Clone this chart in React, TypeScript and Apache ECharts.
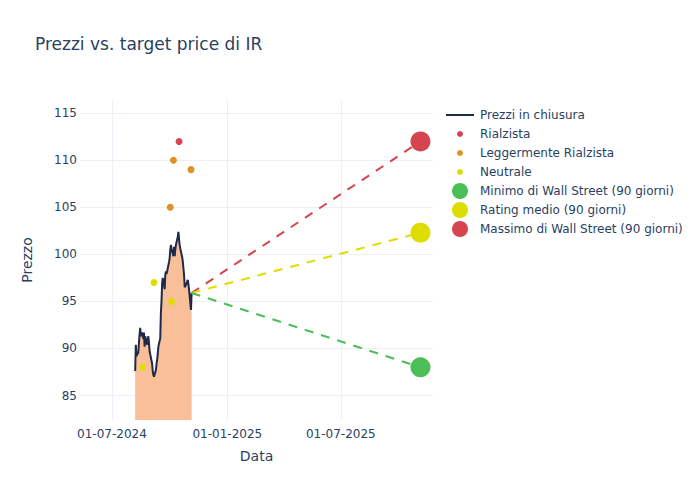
import React, { useEffect, useRef } from "react";
import * as echarts from "echarts";

const priceDates = [
  "2024-08-07","2024-08-08","2024-08-09","2024-08-12","2024-08-13","2024-08-14","2024-08-15","2024-08-16",
  "2024-08-19","2024-08-20","2024-08-21","2024-08-22","2024-08-23","2024-08-26","2024-08-27","2024-08-28",
  "2024-08-29","2024-08-30","2024-09-03","2024-09-04","2024-09-05","2024-09-06","2024-09-09","2024-09-10",
  "2024-09-11","2024-09-12","2024-09-13","2024-09-16","2024-09-17","2024-09-18","2024-09-19","2024-09-20",
  "2024-09-23","2024-09-24","2024-09-25","2024-09-26","2024-09-27","2024-09-30","2024-10-01","2024-10-02",
  "2024-10-03","2024-10-04","2024-10-07","2024-10-08","2024-10-09","2024-10-10","2024-10-11","2024-10-14",
  "2024-10-15","2024-10-16","2024-10-17","2024-10-18","2024-10-21","2024-10-22","2024-10-23","2024-10-24",
  "2024-10-25","2024-10-28","2024-10-29","2024-10-30","2024-10-31","2024-11-01","2024-11-04","2024-11-05",
];
const closes = [
  87.6, 90.4, 89.2, 89.6, 90.6, 91.5, 92.2, 91.3,
  91.7, 91.0, 91.7, 90.2, 91.3, 90.4, 90.9, 91.3,
  90.6, 89.7, 88.4, 87.6, 87.2, 87.0, 87.7, 88.3,
  88.8, 89.4, 90.2, 91.1, 93.8, 95.0, 96.9, 97.5,
  96.3, 97.8, 98.2, 97.9, 98.2, 99.2, 99.6, 100.5,
  101.0, 100.6, 99.8, 100.8, 99.8, 100.5, 101.0, 101.9,
  102.4, 101.6, 101.0, 100.6, 99.7, 99.2, 98.5, 97.8,
  96.5, 96.9, 97.1, 97.3, 96.8, 96.2, 94.1, 95.9,
];

const bullishDates = ["2024-10-16"];
const bullishValues = [112];
const slightlyBullishDates = ["2024-10-02", "2024-10-07", "2024-11-04"];
const slightlyBullishValues = [105, 110, 109];
const neutralDates = ["2024-08-19", "2024-09-06", "2024-10-04"];
const neutralValues = [88, 97, 95];

const targetDate = "2025-11-05";
const targetMin = 88;
const targetAvg = 102.3;
const targetMax = 112;

const xTickDates = ["2024-07-01", "2025-01-01", "2025-07-01"];
const yTicks = [85, 90, 95, 100, 105, 110, 115];

const legendNames = [
  "Prezzi in chiusura",
  "Rialzista",
  "Leggermente Rialzista",
  "Neutrale",
  "Minimo di Wall Street (90 giorni)",
  "Rating medio (90 giorni)",
  "Massimo di Wall Street (90 giorni)",
];

const ts = (s: string) => {
  const [y, m, d] = s.split("-").map(Number);
  return Date.UTC(y, m - 1, d);
};

const TXT = "#2a3f5f";
const FONT = "DejaVu Sans";
const DARK = "#1f2a48";
const RED = "#d6444f";
const ORANGE = "#de9126";
const YELLOW = "#dddd00";
const GREEN = "#4cbe57";

export default function App() {
  const ref = useRef<HTMLDivElement>(null);
  useEffect(() => {
    if (!ref.current) return;
    const chart = echarts.init(ref.current, null, { renderer: "svg" });
    const lastDate = priceDates[priceDates.length - 1];
    const lastClose = closes[closes.length - 1];

    const legendColors = [DARK, RED, ORANGE, YELLOW, GREEN, YELLOW, RED];
    const legendRadius = [0, 3, 3, 3, 8, 8, 8];
    const legendGraphics: any[] = [];
    legendNames.forEach((name, i) => {
      const cy = 115 + i * 19;
      if (i === 0) {
        legendGraphics.push({
          type: "line",
          shape: { x1: 446, y1: cy, x2: 474, y2: cy },
          style: { stroke: DARK, lineWidth: 2 },
        });
      } else {
        legendGraphics.push({
          type: "circle",
          shape: { cx: 460, cy, r: legendRadius[i] },
          style: { fill: legendColors[i] },
        });
      }
      legendGraphics.push({
        type: "text",
        x: 480,
        y: cy,
        style: {
          text: name,
          fill: TXT,
          fontSize: 12,
          fontFamily: FONT,
          verticalAlign: "middle",
          align: "left",
        },
      });
    });

    const dash = { width: 2, type: [9, 8] as number[] };

    chart.setOption({
      animation: false,
      backgroundColor: "#ffffff",
      textStyle: { fontFamily: FONT },
      title: {
        text: "Prezzi vs. target price di IR",
        left: 35,
        top: 35,
        padding: 0,
        textStyle: { color: TXT, fontSize: 17, fontWeight: "normal", fontFamily: FONT },
      },
      graphic: legendGraphics,
      grid: { left: 80, right: 267, top: 100, bottom: 80, containLabel: false },
      xAxis: {
        type: "value",
        min: ts("2024-05-11"),
        max: ts("2025-11-25"),
        name: "Data",
        nameLocation: "middle",
        nameGap: 29,
        nameTextStyle: { color: TXT, fontSize: 14, fontFamily: FONT },
        axisLine: { show: false },
        axisTick: { show: false, customValues: xTickDates.map(ts) },
        axisLabel: {
          customValues: xTickDates.map(ts),
          color: TXT,
          fontSize: 12,
          fontFamily: FONT,
          margin: 8,
          formatter: (v: number) => {
            const d = new Date(v);
            const dd = String(d.getUTCDate()).padStart(2, "0");
            const mm = String(d.getUTCMonth() + 1).padStart(2, "0");
            return `${dd}-${mm}-${d.getUTCFullYear()}`;
          },
        },
        splitLine: { show: true, lineStyle: { color: "#ebf0f8", width: 1 } },
      },
      yAxis: {
        type: "value",
        min: 82.4,
        max: 116.4,
        name: "Prezzo",
        nameLocation: "middle",
        nameGap: 46,
        nameTextStyle: { color: TXT, fontSize: 14, fontFamily: FONT },
        axisLine: { show: false },
        axisTick: { show: false, customValues: yTicks },
        axisLabel: { customValues: yTicks, color: TXT, fontSize: 12, fontFamily: FONT, margin: 3 },
        splitLine: { show: true, lineStyle: { color: "#ebf0f8", width: 1 } },
      },
      series: [
        {
          name: "Prezzi in chiusura",
          type: "line",
          data: priceDates.map((d, i) => [ts(d), closes[i]]),
          symbol: "none",
          lineStyle: { color: DARK, width: 2 },
          itemStyle: { color: DARK },
          areaStyle: { color: "#f8bf99", opacity: 1 },
          z: 2,
        },
        {
          name: "lineMax",
          type: "line",
          data: [[ts(lastDate), lastClose], [ts(targetDate), targetMax]],
          symbol: "none",
          lineStyle: { color: RED, ...dash },
          z: 3,
        },
        {
          name: "lineAvg",
          type: "line",
          data: [[ts(lastDate), lastClose], [ts(targetDate), targetAvg]],
          symbol: "none",
          lineStyle: { color: YELLOW, ...dash },
          z: 3,
        },
        {
          name: "lineMin",
          type: "line",
          data: [[ts(lastDate), lastClose], [ts(targetDate), targetMin]],
          symbol: "none",
          lineStyle: { color: GREEN, ...dash },
          z: 3,
        },
        {
          name: "Rialzista",
          type: "scatter",
          data: bullishDates.map((d, i) => [ts(d), bullishValues[i]]),
          symbolSize: 7,
          itemStyle: { color: RED, opacity: 1 },
          z: 4,
        },
        {
          name: "Leggermente Rialzista",
          type: "scatter",
          data: slightlyBullishDates.map((d, i) => [ts(d), slightlyBullishValues[i]]),
          symbolSize: 7,
          itemStyle: { color: ORANGE, opacity: 1 },
          z: 4,
        },
        {
          name: "Neutrale",
          type: "scatter",
          data: neutralDates.map((d, i) => [ts(d), neutralValues[i]]),
          symbolSize: 7,
          itemStyle: { color: YELLOW, opacity: 1 },
          z: 4,
        },
        {
          name: "Minimo di Wall Street (90 giorni)",
          type: "scatter",
          data: [[ts(targetDate), targetMin]],
          symbolSize: 20,
          itemStyle: { color: GREEN, opacity: 1 },
          z: 5,
        },
        {
          name: "Rating medio (90 giorni)",
          type: "scatter",
          data: [[ts(targetDate), targetAvg]],
          symbolSize: 20,
          itemStyle: { color: YELLOW, opacity: 1 },
          z: 5,
        },
        {
          name: "Massimo di Wall Street (90 giorni)",
          type: "scatter",
          data: [[ts(targetDate), targetMax]],
          symbolSize: 20,
          itemStyle: { color: RED, opacity: 1 },
          z: 5,
        },
      ],
    });
    return () => chart.dispose();
  }, []);
  return <div ref={ref} style={{ position: "absolute", left: 0, top: 0, width: 700, height: 500 }} />;
}
